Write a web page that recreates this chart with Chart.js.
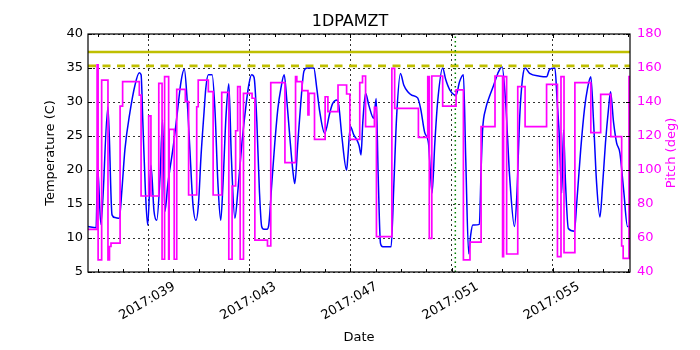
<!DOCTYPE html>
<html>
<head>
<meta charset="utf-8">
<script src="https://cdn.jsdelivr.net/npm/chart.js"></script>
<style>
  body { margin: 0; background: #fff; }
</style>
</head>
<body>
<canvas id="chart" width="700" height="350"></canvas>
<script>
// day of year 2017 (fractional) and 1DPAMZT temperature
const tempDays = [36.62, 36.94, 37.00, 37.13, 37.41, 37.57, 37.69, 37.86, 37.96, 38.08, 38.28, 38.48, 38.65, 38.72, 38.79, 38.89, 38.98,
  39.11, 39.23, 39.34, 39.47, 39.57, 39.66, 39.78, 39.99, 40.14, 40.30, 40.43, 40.53, 40.65, 40.77, 40.89, 40.99,
  41.09, 41.21, 41.28, 41.38, 41.53, 41.64, 41.76, 41.87, 41.96, 42.08, 42.19, 42.29, 42.43, 42.55, 42.71, 42.87, 42.98,
  43.09, 43.19, 43.30, 43.40, 43.49, 43.58, 43.70, 43.77, 43.89, 44.01, 44.13, 44.25, 44.38, 44.49, 44.60, 44.72, 44.80, 44.92,
  45.04, 45.16, 45.28, 45.55, 45.67, 45.79, 45.98, 46.19, 46.30, 46.47, 46.54, 46.66, 46.85, 46.90,
  47.00, 47.13, 47.26, 47.35, 47.42, 47.49, 47.60, 47.73, 47.92, 48.02, 48.10, 48.19, 48.28, 48.61, 48.72, 48.83, 48.98,
  49.11, 49.27, 49.43, 49.66, 49.78, 49.94, 50.09, 50.16, 50.23, 50.34, 50.45, 50.65, 50.77, 50.93,
  51.18, 51.32, 51.47, 51.56, 51.68, 51.76, 51.84, 52.10, 52.17, 52.23, 52.35, 52.50, 52.67, 52.83,
  53.00, 53.14, 53.30, 53.49, 53.58, 53.70, 53.81, 53.91, 54.09, 54.49, 54.76, 54.88,
  55.09, 55.18, 55.25, 55.36, 55.43, 55.51, 55.62, 55.86, 55.95, 56.11, 56.26, 56.38, 56.51, 56.62, 56.74, 56.87, 56.98,
  57.09, 57.21, 57.29, 57.41, 57.53, 57.66, 57.81, 57.96, 58.06];
const tempVals = [11.7, 11.5, 20.5, 12.0, 29.3, 13.4, 13.0, 12.9, 17.0, 23.0, 28.5, 32.5, 34.3, 34.0, 27.0, 17.0, 11.9,
  20.7, 14.0, 12.6, 19.0, 27.4, 13.9, 18.0, 23.4, 28.0, 33.0, 34.8, 31.0, 23.0, 15.0, 12.6, 15.0,
  22.0, 28.5, 32.0, 34.0, 34.0, 29.0, 18.0, 12.6, 18.0, 28.0, 32.7, 22.0, 12.9, 17.0, 24.0, 29.5, 32.5,
  34.0, 33.6, 27.0, 17.0, 11.7, 11.3, 11.3, 11.9, 18.0, 24.0, 29.0, 32.0, 34.0, 30.0, 25.0, 20.0, 18.0, 24.0,
  30.0, 34.5, 35.0, 35.0, 32.0, 28.5, 25.4, 28.5, 29.8, 30.3, 29.5, 25.0, 20.0, 22.0,
  26.4, 25.2, 24.4, 23.5, 22.2, 27.0, 31.3, 29.5, 27.6, 30.5, 19.0, 9.2, 8.7, 8.7, 18.0, 28.0, 34.2,
  32.5, 31.5, 31.0, 30.6, 29.0, 25.5, 23.9, 20.0, 16.6, 24.0, 30.0, 35.0, 33.3, 31.8,
  31.0, 33.0, 34.0, 22.0, 7.7, 10.5, 11.9, 12.0, 20.0, 25.9, 29.0, 30.8, 32.5, 34.2,
  35.2, 30.0, 19.0, 11.7, 16.0, 28.0, 33.5, 35.0, 34.2, 33.8, 33.7, 34.8,
  35.0, 30.0, 25.9, 16.6, 25.9, 18.0, 11.4, 11.0, 15.0, 23.0, 29.0, 32.0, 33.7, 27.0, 18.0, 13.1, 18.0,
  24.0, 29.0, 31.5, 27.0, 24.0, 22.5, 17.0, 11.7, 11.7];

// pitch steps: each value holds from its day until the next one
const pitchDays = [36.62, 36.98, 37.02, 37.16, 37.41, 37.47, 37.53, 37.89, 37.99, 38.65, 38.72,
  39.02, 39.11, 39.42, 39.55, 39.65, 39.81, 39.83, 40.03, 40.13, 40.47, 40.60, 40.92, 40.98,
  41.38, 41.57, 41.91, 42.19, 42.32, 42.46, 42.54, 42.64, 42.77, 43.11, 43.22, 43.72, 43.85,
  44.41, 44.83, 44.88, 45.09, 45.32, 45.36, 45.58, 46.00, 46.11, 46.51, 46.85, 46.98,
  47.37, 47.48, 47.60, 47.95, 48.03, 48.64, 48.75, 49.69, 50.06, 50.12, 50.22, 50.65,
  51.18, 51.47, 51.73, 52.17, 52.72, 53.02, 53.06, 53.18, 53.62, 53.91, 54.76,
  55.19, 55.33, 55.45, 55.88, 56.51, 56.90, 57.30, 57.73, 57.79, 58.02, 58.06];
const pitchVals = [65.1, 161.8, 47.1, 152.9, 47.1, 55.0, 57.0, 137.6, 152.0, 144.1, 84.7,
  131.8, 84.7, 151.0, 47.5, 154.9, 47.5, 123.9, 47.5, 147.4, 140.2, 85.3, 137.2, 152.9,
  146.1, 85.3, 145.7, 47.5, 90.6, 123.1, 149.0, 47.5, 145.1, 142.2, 58.8, 55.3, 151.4,
  104.3, 154.9, 152.0, 146.7, 132.4, 145.1, 118.0, 143.1, 134.3, 150.0, 144.7, 118.0,
  151.4, 155.3, 125.5, 136.9, 60.8, 159.8, 136.3, 119.2, 155.0, 59.8, 155.3, 137.6,
  147.1, 47.1, 57.6, 125.5, 155.3, 49.0, 154.9, 50.6, 149.0, 125.5, 150.4,
  49.0, 154.9, 51.4, 151.4, 122.0, 144.5, 119.6, 55.3, 48.0, 154.9, 154.9];

const limitHi = 37.35;
const limitLo = 35.3;
const nowDay = 51.15;
const dayMin = 36.62, dayMax = 58.06;
const majorDays = [39, 43, 47, 51, 55];
const tempTicks = [5, 10, 15, 20, 25, 30, 35, 40];
const pitchTicks = [40, 60, 80, 100, 120, 140, 160, 180];

function isDay(v) { return Math.abs(v - Math.round(v)) < 1e-6; }
function isMajor(v) { return isDay(v) && majorDays.includes(Math.round(v)); }

Chart.defaults.font.family = 'DejaVu Sans';
Chart.defaults.font.size = 13;
Chart.defaults.color = '#000';

// axes box + inward tick marks like matplotlib, and the right axis label (reads upward)
const frame = {
  id: 'frame',
  afterDraw(chart) {
    const { ctx, chartArea: a, scales } = chart;
    ctx.save();
    ctx.strokeStyle = '#000';
    ctx.lineWidth = 1;
    ctx.beginPath();
    for (let d = Math.ceil(dayMin); d <= Math.floor(dayMax); d++) {
      const px = Math.round(scales.x.getPixelForValue(d)) + 0.5;
      const len = majorDays.includes(d) ? 4 : 3;
      ctx.moveTo(px, a.bottom); ctx.lineTo(px, a.bottom - len);
      ctx.moveTo(px, a.top); ctx.lineTo(px, a.top + len);
    }
    tempTicks.forEach(t => {
      const py = Math.round(scales.y.getPixelForValue(t)) + 0.5;
      ctx.moveTo(a.left, py); ctx.lineTo(a.left + 4, py);
    });
    pitchTicks.forEach(t => {
      const py = Math.round(scales.y2.getPixelForValue(t)) + 0.5;
      ctx.moveTo(a.right, py); ctx.lineTo(a.right - 4, py);
    });
    ctx.stroke();
    ctx.lineWidth = 1.2;
    ctx.strokeRect(a.left, a.top, a.right - a.left, a.bottom - a.top);

    ctx.translate(672, (a.top + a.bottom) / 2);
    ctx.rotate(-Math.PI / 2);
    ctx.fillStyle = '#ff00ff';
    ctx.font = '13px "DejaVu Sans"';
    ctx.textAlign = 'center';
    ctx.textBaseline = 'middle';
    ctx.fillText('Pitch (deg)', 0, 0);
    ctx.restore();
  }
};

new Chart(document.getElementById('chart'), {
  type: 'line',
  data: {
    datasets: [{
      label: 'Pitch',
      data: pitchDays.map((d, i) => ({ x: d, y: pitchVals[i] })),
      yAxisID: 'y2',
      stepped: true,
      borderColor: '#ff00ff',
      borderWidth: 1.7,
      pointRadius: 0
    }, {
      label: 'now',
      data: [{ x: nowDay, y: 5 }, { x: nowDay, y: 40 }],
      yAxisID: 'y',
      borderColor: '#008000',
      borderDash: [1.5, 3],
      borderWidth: 1.5,
      pointRadius: 0
    }, {
      label: 'limit hi',
      data: [{ x: dayMin, y: limitHi }, { x: dayMax, y: limitHi }],
      yAxisID: 'y',
      borderColor: '#bfbf00',
      borderWidth: 2.6,
      pointRadius: 0
    }, {
      label: 'limit lo',
      data: [{ x: dayMin, y: limitLo }, { x: dayMax, y: limitLo }],
      yAxisID: 'y',
      borderColor: '#bfbf00',
      borderDash: [8, 6.5],
      borderWidth: 2.8,
      pointRadius: 0
    }, {
      label: 'Temperature',
      data: tempDays.map((d, i) => ({ x: d, y: tempVals[i] })),
      yAxisID: 'y',
      borderColor: '#0000ff',
      borderWidth: 1.5,
      cubicInterpolationMode: 'monotone',
      pointRadius: 0
    }]
  },
  options: {
    responsive: false,
    animation: false,
    layout: { padding: 0 },
    plugins: {
      legend: { display: false },
      tooltip: { enabled: false },
      title: {
        display: true,
        text: '1DPAMZT',
        color: '#000',
        font: { size: 16, weight: 'normal' },
        padding: { top: 12, bottom: 2.8 }
      }
    },
    scales: {
      x: {
        type: 'linear',
        min: dayMin,
        max: dayMax,
        afterFit(s) { s.height = 78; },
        ticks: {
          stepSize: 1,
          autoSkip: false,
          minRotation: 30,
          maxRotation: 30,
          labelOffset: 26,
          padding: 7,
          callback: v => isMajor(v) ? '2017:' + String(Math.round(v)).padStart(3, '0') : ''
        },
        grid: {
          drawTicks: false,
          lineWidth: 0.8,
          color: c => (c.tick && isMajor(c.tick.value)) ? '#000' : 'rgba(0,0,0,0)'
        },
        border: { display: false, dash: [2, 3] },
        title: { display: true, text: 'Date', padding: { top: 0, bottom: 5 } }
      },
      y: {
        position: 'left',
        min: 5,
        max: 40,
        afterFit(s) { s.width = 88; },
        ticks: { stepSize: 5, padding: 5 },
        grid: { drawTicks: false, lineWidth: 0.8, color: '#000' },
        border: { display: false, dash: [2, 3] },
        title: { display: true, text: 'Temperature (C)', padding: { top: 43, bottom: 0 } }
      },
      y2: {
        position: 'right',
        min: 40,
        max: 180,
        afterFit(s) { s.width = 70; },
        ticks: { stepSize: 20, padding: 7, color: '#ff00ff' },
        grid: { display: false, drawTicks: false },
        border: { display: false },
        title: { display: false }
      }
    }
  },
  plugins: [frame]
});
</script>
</body>
</html>
